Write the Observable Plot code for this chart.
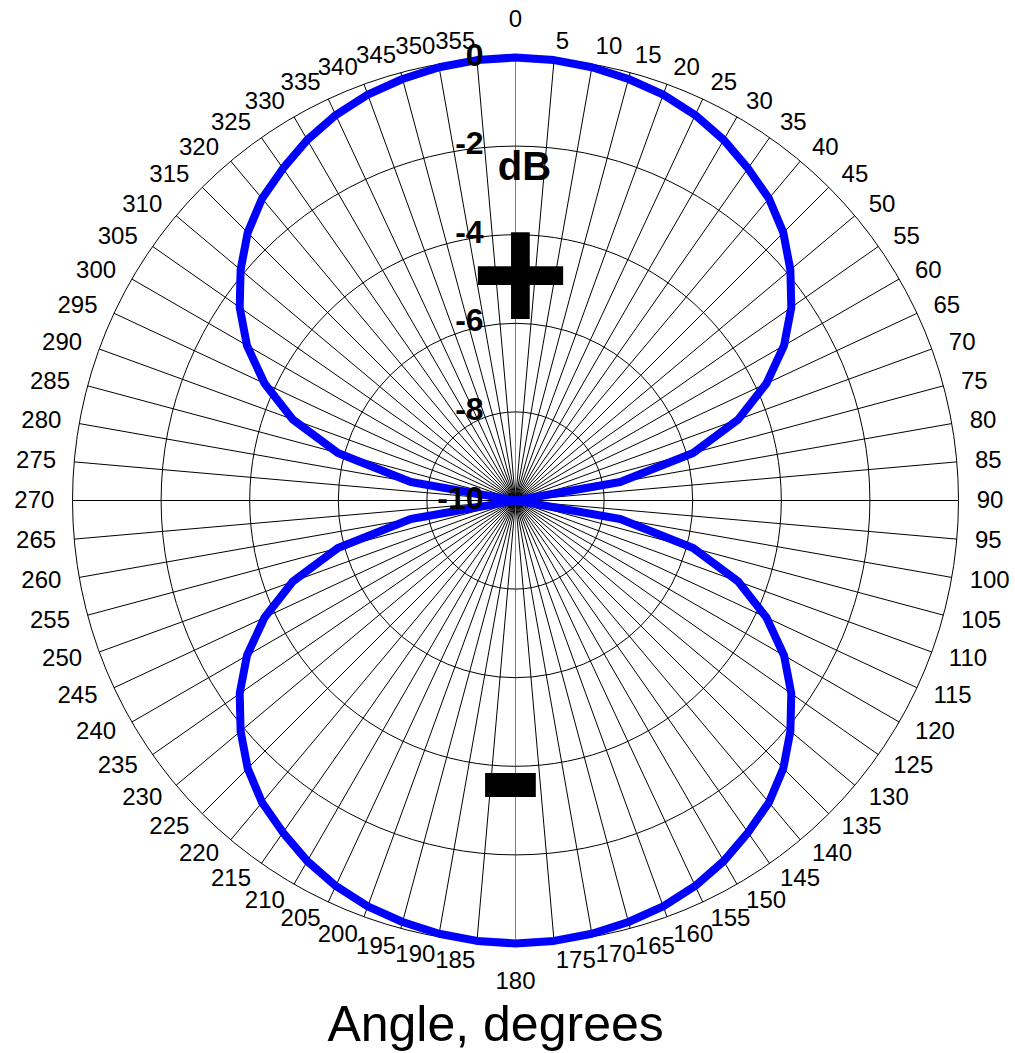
<!DOCTYPE html>
<html>
<head>
<meta charset="utf-8">
<script src="https://cdn.jsdelivr.net/npm/d3@7"></script>
<script src="https://cdn.jsdelivr.net/npm/@observablehq/plot@0.6"></script>
<style>
  html, body { margin: 0; padding: 0; background: #fff; }
  svg { display: block; }
</style>
</head>
<body>
<div id="chart"></div>
<script>
// Angles (degrees) of the 72 spokes / category labels
const angles = [0,5,10,15,20,25,30,35,40,45,50,55,60,65,70,75,80,85,
  90,95,100,105,110,115,120,125,130,135,140,145,150,155,160,165,170,175,
  180,185,190,195,200,205,210,215,220,225,230,235,240,245,250,255,260,265,
  270,275,280,285,290,295,300,305,310,315,320,325,330,335,340,345,350,355];

// Response in dB, one value per angle above
const gain = [0,-0.02,-0.07,-0.15,-0.25,-0.4,-0.6,-0.85,-1.1,-1.45,-1.9,-2.4,-3.0,-3.75,-4.65,-5.85,-7.6,-10,
  -10,-10,-7.6,-5.85,-4.65,-3.75,-3.0,-2.4,-1.9,-1.45,-1.1,-0.85,-0.6,-0.4,-0.25,-0.15,-0.07,-0.02,
  0,-0.02,-0.07,-0.15,-0.25,-0.4,-0.6,-0.85,-1.1,-1.45,-1.9,-2.4,-3.0,-3.75,-4.65,-5.85,-7.6,-10,
  -10,-10,-7.6,-5.85,-4.65,-3.75,-3.0,-2.4,-1.9,-1.45,-1.1,-0.85,-0.6,-0.4,-0.25,-0.15,-0.07,-0.02];

// Radial (dB) ticks
const dbTicks = [0, -2, -4, -6, -8, -10];
const dbMin = -10, dbMax = 0;

const rad = (a) => a * Math.PI / 180;
const rOf = (db) => db - dbMin;             // radial distance in scale units
const R = dbMax - dbMin;                      // outer radius

// polygon points (closed)
const pts = angles.map((a, i) => ({a, db: gain[i]}));
pts.push(pts[0]);

const spokes = angles.map(a => ({a}));
const labelR = 10.41, labelRv = 10.86;
const FONT = "'Liberation Sans', Arial, Helvetica, sans-serif";

const chart = Plot.plot({
  width: 1015,
  height: 1053,
  marginLeft: 72, marginRight: 57, marginTop: 57, marginBottom: 110,
  x: {domain: [-R, R], axis: null},
  y: {domain: [-R, R], axis: null},
  r: {type: "linear", domain: [0, R], range: [0, 443]},
  style: {fontFamily: FONT, background: "white", color: "black"},
  marks: [
    // spokes
    Plot.link(spokes, {
      x1: 0, y1: 0,
      x2: d => R * Math.sin(rad(d.a)),
      y2: d => R * Math.cos(rad(d.a)),
      stroke: d => (d.a % 180 === 0 ? "#808080" : "#000"),
      strokeWidth: 1
    }),
    // rings
    Plot.dot(dbTicks.filter(t => t > dbMin), {
      x: 0, y: 0, r: d => rOf(d),
      fill: "none", stroke: "black", strokeWidth: 1
    }),
    // the response curve
    Plot.line(pts, {
      x: d => rOf(d.db) * Math.sin(rad(d.a)),
      y: d => rOf(d.db) * Math.cos(rad(d.a)),
      stroke: "#0000FF", strokeWidth: 8, strokeLinejoin: "miter", curve: "linear"
    }),
    // angle labels, right half
    Plot.text(angles.filter(a => a > 0 && a < 180), {
      x: a => labelR * Math.sin(rad(a)), y: a => labelR * Math.cos(rad(a)),
      text: a => String(a), textAnchor: "start", fontSize: 24, fill: "black"
    }),
    // angle labels, left half
    Plot.text(angles.filter(a => a > 180), {
      x: a => labelR * Math.sin(rad(a)), y: a => labelR * Math.cos(rad(a)),
      text: a => String(a), textAnchor: "end", fontSize: 24, fill: "black"
    }),
    // 0 and 180
    Plot.text(angles.filter(a => a % 180 === 0), {
      x: a => labelRv * Math.sin(rad(a)), y: a => labelRv * Math.cos(rad(a)),
      text: a => String(a), textAnchor: "middle", fontSize: 24, fill: "black"
    }),
    // dB tick labels
    Plot.text(dbTicks, {
      x: -0.72, y: d => rOf(d) + 0.05,
      text: d => String(d), textAnchor: "end", fontSize: 32, fontWeight: "bold", fill: "black"
    }),
    Plot.text(["dB"], {x: 0.2, y: 7.52, text: d => d, fontSize: 40, fontWeight: "bold", fill: "black"}),
    Plot.text(["+"], {x: 0.11, y: 5.04, text: d => d, fontSize: 170, fontWeight: "bold", fill: "black"}),
    Plot.text(["-"], {x: -0.11, y: -6.14, text: d => d, fontSize: 200, fontWeight: "bold", fill: "black"}),
    Plot.text(["Angle, degrees"], {x: -0.45, y: -11.835, text: d => d, fontSize: 50, fill: "black"})
  ]
});
document.getElementById("chart").appendChild(chart);
</script>
</body>
</html>
